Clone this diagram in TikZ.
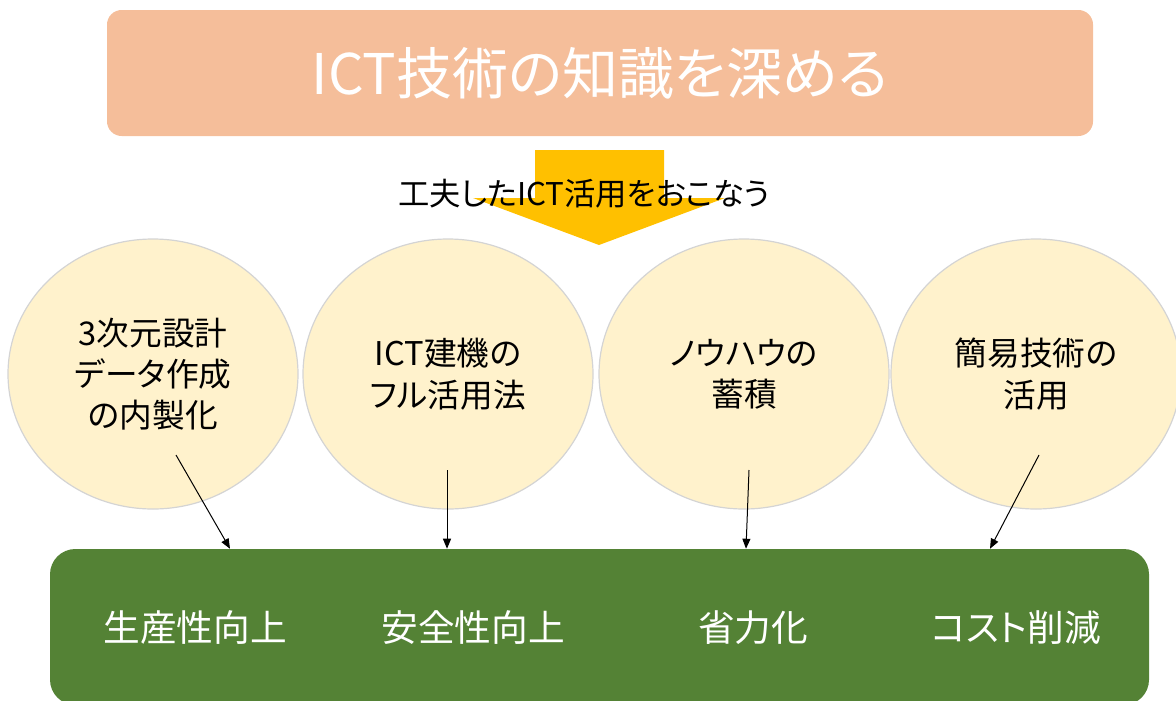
\documentclass[tikz,border=0pt]{standalone}
\usepackage{fontspec}
\setmainfont{Noto Sans CJK JP}[RawFeature=+palt]
\usetikzlibrary{arrows.meta,shapes.geometric,calc}
\definecolor{peach}{HTML}{F5BE9A}
\definecolor{gold}{HTML}{FFC000}
\definecolor{cream}{HTML}{FFF2CC}
\definecolor{ring}{HTML}{D4D4D4}
\definecolor{leaf}{HTML}{548235}
\tikzset{
  titlebox/.style={fill=peach,draw=none,rounded corners=11pt,minimum width=739.5pt,minimum height=94.5pt,text=white,font=\fontsize{42pt}{46pt}\selectfont},
  bubble/.style={ellipse,fill=cream,draw=ring,line width=0.9pt,minimum width=217.5pt,minimum height=202.5pt,inner sep=0pt,align=center,font=\fontsize{24.5pt}{31pt}\selectfont},
  resultbox/.style={fill=leaf,draw=none,rounded corners=19pt,minimum width=824.25pt,minimum height=117pt},
  resulttext/.style={text=white,font=\fontsize{27.5pt}{31pt}\selectfont},
  midtext/.style={text=black,font=\fontsize{23.5pt}{27pt}\selectfont},
  link/.style={draw=black,line width=0.75pt,-{Triangle[length=7.5pt,width=6pt]}}
}
\begin{document}
\begin{tikzpicture}[x=0.75pt,y=-0.75pt]
\useasboundingbox (0,0) rectangle (1176,700);
\clip (0,0) rectangle (1176,700);
% title
\node[titlebox] (title) at (600,73) {ICT技術の知識を深める};
% big arrow
\fill[gold] (535,150) -- (664,150) -- (664,198) -- (725,198) -- (599,245) -- (473,198) -- (535,198) -- cycle;
\node[midtext] (mid) at (584,194) {工夫したICT活用をおこなう};
% bubbles
\node[bubble] (c1) at (153,374) {3次元設計\\データ作成\\の内製化};
\node[bubble] (c2) at (448,374) {ICT建機の\\フル活用法};
\node[bubble] (c3) at (744,374) {ノウハウの\\蓄積};
\node[bubble] (c4) at (1036,374) {簡易技術の\\活用};
% result box
\node[resultbox] (res) at (599.5,627) {};
\node[resulttext] (r1) at (195,628) {生産性向上};
\node[resulttext] (r2) at (473,628) {安全性向上};
\node[resulttext] (r3) at (753,628) {省力化};
\node[resulttext] (r4) at (1016,628) {コスト削減};
% connectors
\coordinate (s1) at (176,455);
\coordinate (s2) at (447,470);
\coordinate (s3) at (749,470);
\coordinate (s4) at (1039,455);
\coordinate (e1) at (230,0 |- res.north);
\coordinate (e2) at (447,0 |- res.north);
\coordinate (e3) at (746,0 |- res.north);
\coordinate (e4) at (990,0 |- res.north);
\draw[link] (s1) -- (e1);
\draw[link] (s2) -- (e2);
\draw[link] (s3) -- (e3);
\draw[link] (s4) -- (e4);
\end{tikzpicture}
\end{document}
